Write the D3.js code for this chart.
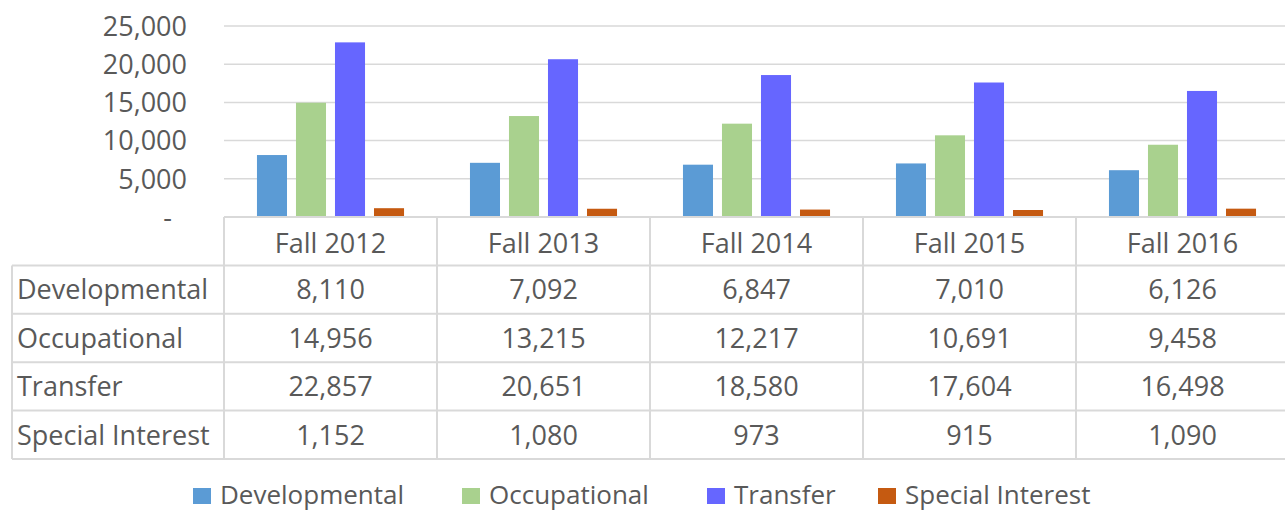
<!DOCTYPE html>
<html>
<head>
<meta charset="utf-8">
<script src="https://cdn.jsdelivr.net/npm/d3@7"></script>
<style>
  body { margin: 0; background: #fff; }
  svg text { font-family: 'Open Sans', sans-serif; fill: #595959; }
</style>
</head>
<body>
<svg id="chart" width="1285" height="514"></svg>
<script>
const terms = ['Fall 2012', 'Fall 2013', 'Fall 2014', 'Fall 2015', 'Fall 2016']
const seriesNames = ['Developmental', 'Occupational', 'Transfer', 'Special Interest']
const developmental = [8110, 7092, 6847, 7010, 6126]
const occupational = [14956, 13215, 12217, 10691, 9458]
const transfer = [22857, 20651, 18580, 17604, 16498]
const specialInterest = [1152, 1080, 973, 915, 1090]
const yTicks = [0, 5000, 10000, 15000, 20000, 25000]
const colors = ['#5B9BD5', '#A9D18E', '#6666FF', '#C55A11']

const values = [developmental, occupational, transfer, specialInterest]

const svg = d3.select('#chart')
const fmt = d3.format(',')
const gridColor = '#D9D9D9'
const fontSize = 27

const x0 = d3.scaleBand().domain(terms).range([224, 1289])
const x1 = d3.scaleBand()
  .domain(seriesNames)
  .range([0, x0.bandwidth()])
  .paddingInner(0.23)
  .paddingOuter(0.845)
const y = d3.scaleLinear().domain([0, 25000]).range([217, 26])

// gridlines
svg.append('g')
  .selectAll('line')
  .data(yTicks.filter(d => d > 0))
  .join('line')
  .attr('x1', x0.range()[0])
  .attr('x2', x0.range()[1])
  .attr('y1', d => y(d))
  .attr('y2', d => y(d))
  .attr('stroke', gridColor)
  .attr('stroke-width', 1.5)

// y labels
svg.append('g')
  .selectAll('text')
  .data(yTicks)
  .join('text')
  .attr('x', d => d === 0 ? 172 : 187)
  .attr('y', d => y(d))
  .attr('dy', '0.36em')
  .attr('text-anchor', 'end')
  .style('font-size', fontSize + 'px')
  .text(d => d === 0 ? '-' : fmt(d))

// bars
const groups = svg.append('g')
  .selectAll('g')
  .data(terms)
  .join('g')
  .attr('transform', d => `translate(${x0(d)},0)`)

groups.selectAll('rect')
  .data((t, i) => seriesNames.map((s, j) => ({ s, v: values[j][i], c: colors[j] })))
  .join('rect')
  .attr('x', d => x1(d.s))
  .attr('width', x1.bandwidth())
  .attr('y', d => y(d.v))
  .attr('height', d => y(0) - y(d.v))
  .attr('fill', d => d.c)

// data table
const rowKeys = ['header', ...seriesNames]
const rows = d3.scaleBand().domain(rowKeys).range([217, 459])
const tableLeft = 12
const tbl = svg.append('g')

// horizontal lines
tbl.append('line')
  .attr('x1', x0.range()[0]).attr('x2', x0.range()[1])
  .attr('y1', rows('header')).attr('y2', rows('header'))
  .attr('stroke', gridColor).attr('stroke-width', 2)
tbl.selectAll('line.h')
  .data(seriesNames.concat(['end']))
  .join('line')
  .attr('class', 'h')
  .attr('x1', tableLeft)
  .attr('x2', x0.range()[1])
  .attr('y1', d => d === 'end' ? rows.range()[1] : rows(d))
  .attr('y2', d => d === 'end' ? rows.range()[1] : rows(d))
  .attr('stroke', gridColor).attr('stroke-width', 2)

// vertical lines
tbl.selectAll('line.v')
  .data(terms)
  .join('line')
  .attr('class', 'v')
  .attr('x1', d => x0(d)).attr('x2', d => x0(d))
  .attr('y1', rows('header')).attr('y2', rows.range()[1])
  .attr('stroke', gridColor).attr('stroke-width', 2)
tbl.append('line')
  .attr('x1', tableLeft).attr('x2', tableLeft)
  .attr('y1', rows(seriesNames[0])).attr('y2', rows.range()[1])
  .attr('stroke', gridColor).attr('stroke-width', 2)

// header labels
tbl.selectAll('text.hd')
  .data(terms)
  .join('text')
  .attr('class', 'hd')
  .attr('x', d => x0(d) + x0.bandwidth() / 2)
  .attr('y', rows('header') + rows.bandwidth() / 2 + 2)
  .attr('dy', '0.36em')
  .attr('text-anchor', 'middle')
  .style('font-size', fontSize + 'px')
  .text(d => d)

// row labels
tbl.selectAll('text.rl')
  .data(seriesNames)
  .join('text')
  .attr('class', 'rl')
  .attr('x', tableLeft + 5)
  .attr('y', d => rows(d) + rows.bandwidth() / 2)
  .attr('dy', '0.36em')
  .style('font-size', fontSize + 'px')
  .text(d => d)

// cell values
seriesNames.forEach((s, j) => {
  tbl.append('g')
    .selectAll('text')
    .data(values[j])
    .join('text')
    .attr('x', (d, i) => x0(terms[i]) + x0.bandwidth() / 2)
    .attr('y', rows(s) + rows.bandwidth() / 2)
    .attr('dy', '0.36em')
    .attr('text-anchor', 'middle')
    .style('font-size', fontSize + 'px')
    .text(d => fmt(d))
})

// legend
const legendX = [193, 462, 707, 878]
const legend = svg.append('g')
  .selectAll('g')
  .data(seriesNames)
  .join('g')
  .attr('transform', (d, i) => `translate(${legendX[i]},495)`)
legend.append('rect')
  .attr('x', 0).attr('y', -7)
  .attr('width', 18).attr('height', 16)
  .attr('fill', (d, i) => colors[i])
legend.append('text')
  .attr('x', 27)
  .attr('dy', '0.36em')
  .style('font-size', '26px')
  .text(d => d)
</script>
</body>
</html>
